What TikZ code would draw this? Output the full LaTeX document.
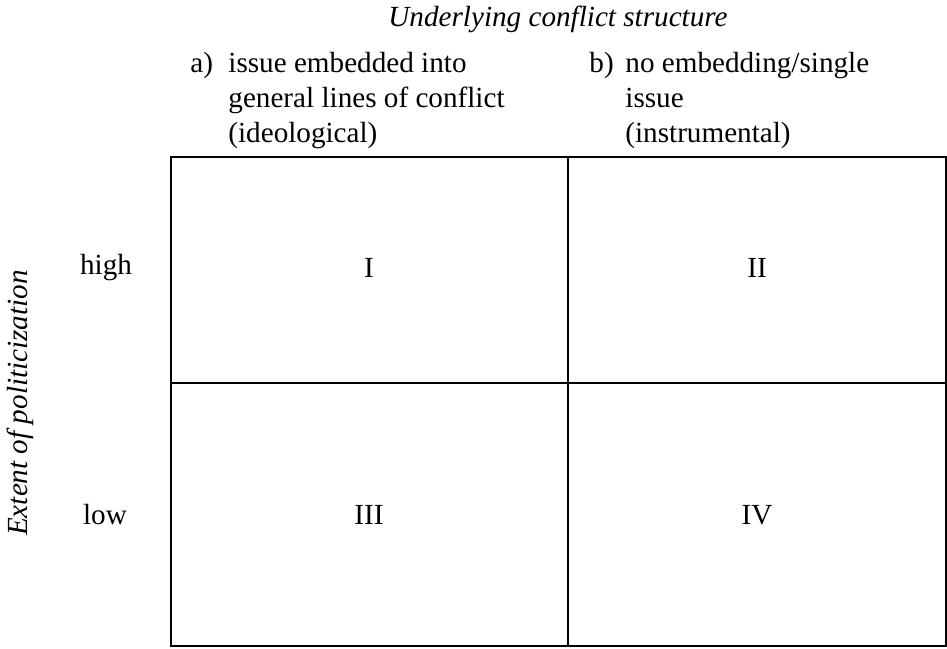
\documentclass[tikz,border=0pt]{standalone}
\usepackage{fontspec}
\setmainfont{Liberation Serif}
\usetikzlibrary{positioning}

\begin{document}
\begin{tikzpicture}[
    x=0.48pt, y=-0.48pt,
    every node/.style={font=\fontsize{14}{16.8}\selectfont, inner sep=0pt},
    axislabel/.style={font=\fontsize{14}{16.8}\selectfont\itshape},
    colitem/.style={anchor=base west},
    coltext/.style={align=left, anchor=north west},
    rowlabel/.style={anchor=center},
    cellnum/.style={anchor=center},
    gridline/.style={line width=1.3pt},
]
\useasboundingbox (0,0) rectangle (947,648);
% table frame
\draw[gridline] (171,157) rectangle (946,646);
\draw[gridline] (568,157) -- (568,646);
\draw[gridline] (171,383) -- (946,383);
% column heads
\node[axislabel] (colhead) at (558,19) {Underlying conflict structure};
\node[colitem] (cola) at (190,72) {a)};
\node[coltext] (colatext) at (228,52) {issue embedded into\\general lines of conflict\\(ideological)};
\node[colitem] (colb) at (589,72) {b)};
\node[coltext] (colbtext) at (625,52) {no embedding/single\\issue\\(instrumental)};
% row heads
\node[axislabel, rotate=90] (rowhead) at (20,403) {Extent of politicization};
\node[rowlabel] (high) at (106,268) {high};
\node[rowlabel] (low) at (105,515) {low};
% cells
\node[cellnum] (c1) at (369,268) {I};
\node[cellnum] (c2) at (757,268) {II};
\node[cellnum] (c3) at (369,515) {III};
\node[cellnum] (c4) at (757,515) {IV};
\end{tikzpicture}
\end{document}
